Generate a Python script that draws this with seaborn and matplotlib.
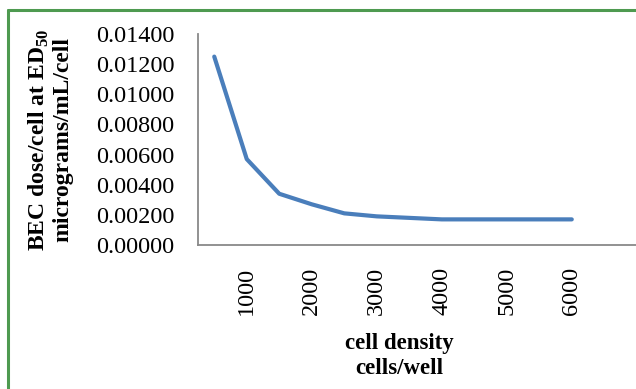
import matplotlib
matplotlib.use("Agg")
import matplotlib.pyplot as plt
from matplotlib.lines import Line2D
import seaborn as sns
import pandas as pd

cells_per_well = [500, 1000, 1500, 2000, 2500, 3000, 3500, 4000, 4500, 5000, 5500, 6000]
dose_per_cell = [0.0125, 0.0057, 0.0034, 0.0027, 0.0021, 0.0019, 0.0018, 0.0017,
                 0.0017, 0.0017, 0.0017, 0.0017]
x_ticks = [1000, 2000, 3000, 4000, 5000, 6000]
y_ticks = [0.0, 0.002, 0.004, 0.006, 0.008, 0.010, 0.012, 0.014]

sns.set_style("white")
plt.rcParams['font.family'] = ['Liberation Serif', 'DejaVu Serif']
plt.rcParams['mathtext.fontset'] = 'custom'
plt.rcParams['mathtext.bf'] = 'Liberation Serif:bold'
plt.rcParams['mathtext.rm'] = 'Liberation Serif:bold'
plt.rcParams['text.color'] = 'black'
plt.rcParams['xtick.color'] = 'black'
plt.rcParams['ytick.color'] = 'black'

df = pd.DataFrame({"cells": cells_per_well, "dose": dose_per_cell})

W, H = 636, 389
fig = plt.figure(figsize=(W / 100, H / 100), dpi=100)
ax = fig.add_axes([198 / W, 1 - 245 / H, (W - 198) / W, (245 - 34) / H])

sns.lineplot(data=df, x="cells", y="dose", ax=ax, color="#4a7ebb", linewidth=3.0,
             solid_capstyle="round")

ax.set_xlim(250, 6988)
ax.set_ylim(0, 0.014)
ax.set_xticks(x_ticks)
ax.set_xticklabels([str(t) for t in x_ticks], rotation=90, fontsize=17.5)
ax.set_yticks(y_ticks)
ax.set_yticklabels([f"{t:.5f}" for t in y_ticks], fontsize=17.5)
ax.tick_params(axis="both", length=0)
ax.tick_params(axis="y", pad=17)
ax.tick_params(axis="x", pad=16)

for s in ["top", "right"]:
    ax.spines[s].set_visible(False)
for s in ["left", "bottom"]:
    ax.spines[s].set_color("#898989")
    ax.spines[s].set_linewidth(1.3)

ax.set_xlabel("")
ax.set_ylabel("")
fig.text(399 / W, 1 - 356 / H, "cell density\ncells/well", ha="center", va="center",
         fontsize=16.5, fontweight="bold", linespacing=1.2)
fig.text(50 / W, 1 - 140 / H, "BEC dose/cell at ED$_{50}$\nmicrograms/mL/cell",
         ha="center", va="center", rotation=90, fontsize=17, fontweight="bold",
         multialignment="center", linespacing=1.1)

# green frame (top and left visible, cropped at right/bottom)
fig.add_artist(Line2D([8 / W, 1.0], [1 - 10 / H, 1 - 10 / H], transform=fig.transFigure,
                      color="#4e9a50", linewidth=2.2))
fig.add_artist(Line2D([8 / W, 8 / W], [0.0, 1 - 10 / H], transform=fig.transFigure,
                      color="#4e9a50", linewidth=2.2))

fig.savefig("out.png", dpi=100, facecolor="white")
